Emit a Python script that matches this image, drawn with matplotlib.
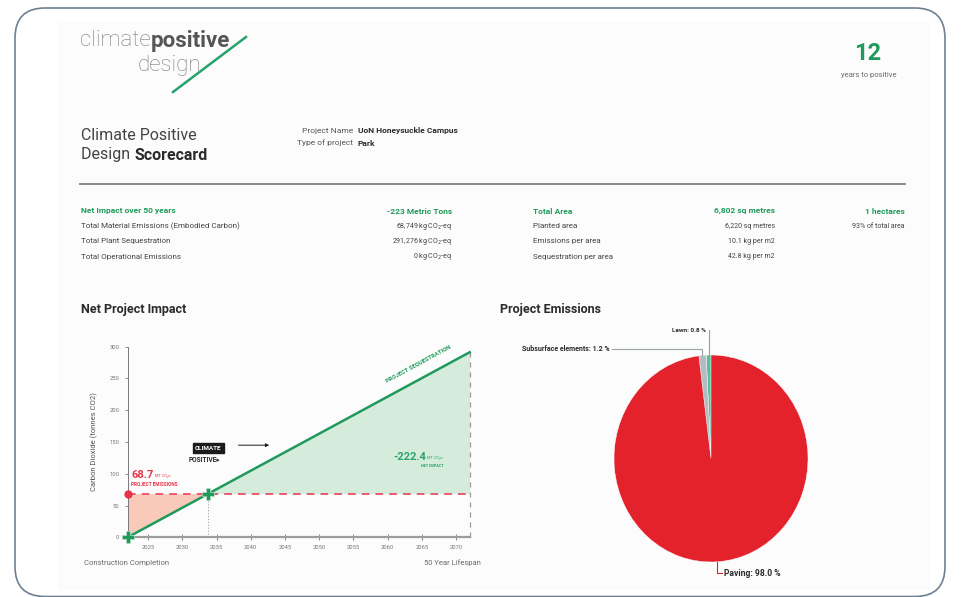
import numpy as np
import matplotlib.pyplot as plt
from matplotlib.patches import FancyBboxPatch, Rectangle

plt.rcParams['font.family'] = ['Roboto', 'DejaVu Sans']

# scorecard figures
project_name = "UoN Honeysuckle Campus"
project_type = "Park"
years_to_positive = 12

material_kg = 68749
plant_seq_kg = 291276
operational_kg = 0
impact_rows = ["Total Material Emissions (Embodied Carbon)",
               "Total Plant Sequestration",
               "Total Operational Emissions"]
impact_kg = [material_kg, plant_seq_kg, operational_kg]
area_rows = ["Planted area", "Emissions per area", "Sequestration per area"]
area_values = ["6,220 sq metres", "10.1 kg per m2", "42.8 kg per m2"]

# net project impact (tonnes CO2)
years = [2022, 2072]
sequestration = [0.0, 291.3]
emissions = 68.7
net_impact = -222.4
x_ticks = list(range(2025, 2071, 5))
y_ticks = list(range(0, 301, 50))

# project emissions breakdown (%)
pie_labels = ["Lawn", "Subsurface elements", "Paving"]
pie_values = [0.8, 1.2, 98.0]
pie_colors = ["#5dbb98", "#b3bcc2", "#e3222b"]

GREEN = "#1f9a5c"
RED = "#e5354a"
DARK = "#2b2b2b"
GREY = "#6a6a6a"

fig = plt.figure(figsize=(9.63, 5.97), dpi=100)
bg = fig.add_axes([0, 0, 1, 1])
bg.set_xlim(0, 963)
bg.set_ylim(597, 0)
bg.axis("off")

# card frame and page
bg.add_patch(FancyBboxPatch((15, 8), 930, 588.5, boxstyle="round,pad=0,rounding_size=30",
                            facecolor="white", edgecolor="#6f8092", lw=1.2))
bg.add_patch(Rectangle((58, 22), 872, 568, facecolor="#fcfcfc", edgecolor="none"))

renderer = fig.canvas.get_renderer()


def after(t, gap=0):
    # x position (pixels) just right of a drawn text
    bb = t.get_window_extent(renderer=renderer)
    return bb.x1 + gap


# logo
t = bg.text(80, 41, "climate", fontsize=16, color="#7a7a7a", weight="light", va="center")
bg.text(after(t), 41, "positive", fontsize=16, color="#555555", weight="bold", va="center")
bg.text(201, 66, "design", fontsize=16, color="#7a7a7a", weight="light", va="center", ha="right")
bg.plot([173, 246], [92, 37], color="#27a26a", lw=1.8)

bg.text(868, 54, str(years_to_positive), fontsize=17, color=GREEN, weight="bold",
        ha="center", va="center")
bg.text(869, 75, "years to positive", fontsize=5.5, color=GREY, ha="center", va="center")

# title block
bg.text(81, 135, "Climate Positive", fontsize=11.5, color="#444444", va="center")
t = bg.text(81, 155, "Design ", fontsize=11.5, color="#444444", va="center")
bg.text(after(t), 155, "Scorecard", fontsize=11.5, color=DARK, weight="bold", va="center")

bg.text(353, 131, "Project Name", fontsize=6, color="#555555", ha="right", va="center")
bg.text(358, 131, project_name, fontsize=6, color=DARK, weight="bold", va="center")
bg.text(353, 143, "Type of project", fontsize=6, color="#555555", ha="right", va="center")
bg.text(358, 143, project_type, fontsize=6, color=DARK, weight="bold", va="center")

bg.plot([80, 905], [184, 184], color="#8a8a8a", lw=1.4)

# summary table
net_tons = round((material_kg + operational_kg - plant_seq_kg) / 1000)
bg.text(81, 211, "Net Impact over 50 years", fontsize=6, color=GREEN, weight="bold", va="center")
bg.text(452, 211, f"{net_tons:d} Metric Tons", fontsize=6, color=GREEN,
        weight="bold", ha="right", va="center")
for i, (lab, kg) in enumerate(zip(impact_rows, impact_kg)):
    y = 226 + i * 15.5
    bg.text(81, y, lab, fontsize=5.8, color="#444444", va="center")
    bg.text(452, y, f"{kg:,} kg CO$_2$-eq", fontsize=5, color="#444444", ha="right", va="center")

bg.text(533, 211, "Total Area", fontsize=6, color=GREEN, weight="bold", va="center")
bg.text(775, 211, "6,802 sq metres", fontsize=6, color=GREEN, weight="bold", ha="right", va="center")
bg.text(905, 211, "1 hectares", fontsize=6, color=GREEN, weight="bold", ha="right", va="center")
for i, (lab, val) in enumerate(zip(area_rows, area_values)):
    y = 226 + i * 15.5
    bg.text(533, y, lab, fontsize=5.8, color="#444444", va="center")
    bg.text(775, y, val, fontsize=5, color="#444444", ha="right", va="center")
bg.text(905, 226, "93% of total area", fontsize=5, color="#444444", ha="right", va="center")

bg.text(81, 309, "Net Project Impact", fontsize=9, color=DARK, weight="bold", va="center")
bg.text(500, 309, "Project Emissions", fontsize=9, color=DARK, weight="bold", va="center")

bg.text(84, 563, "Construction Completion", fontsize=5.5, color=GREY, va="center")
bg.text(481, 563, "50 Year Lifespan", fontsize=5.5, color=GREY, va="center", ha="right")

# net project impact chart
ax = fig.add_axes([127.7 / 963, 1 - 537.3 / 597, 342 / 963, 190.6 / 597])
ax.set_facecolor("none")
cross = float(np.interp(emissions, sequestration, years))
xs = [years[0], cross, years[1]]
ys = list(np.interp(xs, years, sequestration))

ax.fill_between(xs[:2], ys[:2], emissions, color="#f9c9b9", lw=0)
ax.fill_between(xs[1:], ys[1:], emissions, color="#d5ebdc", lw=0)
ax.plot([years[0], years[1]], [emissions, emissions], color=RED, lw=1.1, ls=(0, (5, 4)))
ax.plot([years[1], years[1]], [0, sequestration[-1]], color="#9a9a9a", lw=0.9, ls=(0, (4, 4)),
        clip_on=False)
ax.plot([cross, cross], [0, emissions], color="#9a9a9a", lw=0.6, ls=(0, (1.5, 2)))
ax.plot(years, sequestration, color=GREEN, lw=1.8, clip_on=False)
ax.plot([years[0]], [emissions], "o", color=RED, ms=5, clip_on=False, zorder=5)
ax.plot([years[0], cross], [sequestration[0], emissions], "P", color=GREEN, ms=8,
        mec="#b8e0c8", mew=0.5, lw=0, clip_on=False, zorder=5)

ax.set_xlim(years[0], years[1])
ax.set_ylim(0, 300)
ax.set_xticks(x_ticks)
ax.set_yticks(y_ticks)
ax.tick_params(labelsize=4.2, colors="#777777", length=2.5, width=0.6)
ax.tick_params(axis="x", direction="inout", length=4)
for s in ("top", "right"):
    ax.spines[s].set_visible(False)
ax.spines["left"].set_color("#777777")
ax.spines["left"].set_linewidth(0.7)
ax.spines["bottom"].set_color("#9c9c9c")
ax.spines["bottom"].set_linewidth(1.6)
ax.set_ylabel("Carbon Dioxide (tonnes CO2)", fontsize=5.5, color="#555555", labelpad=8)

# emissions callout
t = ax.text(years[0] + 0.5, 98, f"{emissions}", fontsize=8, color=RED, weight="bold", va="center")
bb = t.get_window_extent(renderer=renderer)
ax.annotate("MT CO₂e", xy=(bb.x1 + 1.5, bb.y0 + 2), xycoords="figure pixels",
            fontsize=2.8, color=RED, va="bottom")
ax.text(years[0] + 0.5, 83, "PROJECT EMISSIONS", fontsize=3.4, color=RED, weight="bold", va="center")

# climate positive marker
ax.text(cross, 140, "CLIMATE", fontsize=4.6, color="white", weight="bold", ha="center", va="center",
        bbox=dict(boxstyle="square,pad=0.4", fc="#1b1b1b", ec="#1b1b1b"))
ax.text(cross - 2.9, 121, "POSITIVE▸", fontsize=4.8, color=DARK, weight="bold", va="center")
ax.annotate("", xy=(cross + 9.3, 145), xytext=(cross + 4.0, 145),
            arrowprops=dict(arrowstyle="-|>", color="#1b1b1b", lw=0.7, mutation_scale=5))

# net impact callout
t = ax.text(2065.6, 127, f"{net_impact}", fontsize=8, color="#2ba56c", weight="bold",
            va="center", ha="right")
bb = t.get_window_extent(renderer=renderer)
ax.annotate("MT CO₂e", xy=(bb.x1 + 1.5, bb.y0 + 2), xycoords="figure pixels",
            fontsize=2.8, color="#2ba56c", va="bottom")
ax.text(2066.5, 112, "NET IMPACT", fontsize=2.8, color="#2ba56c", weight="bold",
        ha="center", va="center")

angle = np.degrees(np.arctan2(sequestration[1] - sequestration[0], years[1] - years[0]))
ax.text(2064.5, 273, "PROJECT SEQUESTRATION", fontsize=4.2, color=GREEN, weight="bold",
        ha="center", va="center", rotation=angle, transform_rotates_text=True,
        rotation_mode="anchor")

# project emissions pie
pax = fig.add_axes([614 / 963, 1 - 562 / 597, 194 / 963, 207 / 597])
wedges, _ = pax.pie(pie_values, colors=pie_colors, startangle=90, counterclock=True,
                    wedgeprops=dict(edgecolor="white", linewidth=0.3))
pax.set_aspect("auto")
pax.set_xlim(-1, 1)
pax.set_ylim(-1, 1)


def edge_point(w):
    a = np.radians((w.theta1 + w.theta2) / 2)
    return np.cos(a), np.sin(a)


# lawn label: straight up
px, py = edge_point(wedges[0])
pax.plot([px, px], [py, 1.24], color=pie_colors[0], lw=0.8, clip_on=False)
pax.text(px - 0.03, 1.24, f"{pie_labels[0]}: {pie_values[0]} %", fontsize=4.6, color=DARK,
         weight="bold", ha="right", va="center")

# subsurface label: up then left
px, py = edge_point(wedges[1])
pax.plot([px, px, -1.02], [py, 1.06, 1.06], color="#9aa4aa", lw=0.8, clip_on=False)
pax.text(-1.04, 1.06, f"{pie_labels[1]}: {pie_values[1]} %", fontsize=5, color=DARK,
         weight="bold", ha="right", va="center")

# paving label: down then right
px, py = edge_point(wedges[2])
pax.plot([px, px, px + 0.05], [py, -1.11, -1.11], color=pie_colors[2], lw=0.8, clip_on=False)
pax.text(px + 0.07, -1.11, f"{pie_labels[2]}: {pie_values[2]} %", fontsize=6.2, color=DARK,
         weight="bold", ha="left", va="center")

fig.savefig("out.png", dpi=100)
